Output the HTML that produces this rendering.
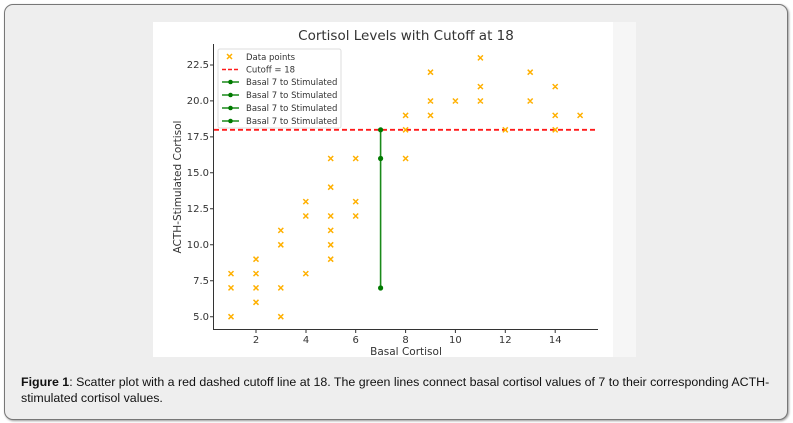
<!DOCTYPE html>
<html><head><style>
body{margin:0;background:#fff;width:793px;height:423px;overflow:hidden;font-family:"Liberation Sans",sans-serif}
.frame{position:absolute;left:4px;top:4px;width:782px;height:414px;background:#eeeeee;border:1px solid #777;border-radius:9px;box-shadow:1px 1px 2px #999}
.cap{position:absolute;left:21px;top:374px;font-size:12.4px;line-height:16px;color:#111;white-space:nowrap}
</style></head><body>
<div class="frame"></div>
<svg style="position:absolute;left:0;top:0" width="793" height="423" font-family="DejaVu Sans, sans-serif">
<rect x="153" y="22" width="483" height="335" fill="#f6f6f6"/>
<rect x="153" y="22" width="460" height="335" fill="#fff"/>
<text x="406" y="40" font-size="13.5" text-anchor="middle" fill="#333">Cortisol Levels with Cutoff at 18</text>
<g stroke="#333" stroke-width="1" fill="none"><path d="M213.5 44V329.5H598"/></g>
<g font-size="10" fill="#333" text-anchor="end">
<text x="209" y="320">5.0</text><text x="209" y="284">7.5</text><text x="209" y="248">10.0</text><text x="209" y="212">12.5</text><text x="209" y="176">15.0</text><text x="209" y="140">17.5</text><text x="209" y="104">20.0</text><text x="209" y="68">22.5</text>
</g>
<g stroke="#333"><path d="M210 316.7h3.5M210 280.7h3.5M210 244.8h3.5M210 208.8h3.5M210 172.8h3.5M210 136.9h3.5M210 100.9h3.5M210 65h3.5M256 329.5v3.5M306 329.5v3.5M355.7 329.5v3.5M405.6 329.5v3.5M455.4 329.5v3.5M505.3 329.5v3.5M555.2 329.5v3.5"/></g>
<g font-size="10" fill="#333" text-anchor="middle">
<text x="256" y="343">2</text><text x="306" y="343">4</text><text x="355.7" y="343">6</text><text x="405.6" y="343">8</text><text x="455.4" y="343">10</text><text x="505.3" y="343">12</text><text x="555.2" y="343">14</text>
<text x="406" y="355" font-size="10.5">Basal Cortisol</text>
</g>
<text transform="translate(181,187) rotate(-90)" font-size="10.5" fill="#333" text-anchor="middle">ACTH-Stimulated Cortisol</text>
<line x1="214" y1="129.8" x2="598" y2="129.8" stroke="#ff1a1a" stroke-width="1.8" stroke-dasharray="5,3"/>
<line x1="380.6" y1="129.8" x2="380.6" y2="288" stroke="#1a8a1a" stroke-width="1.6"/>
<g fill="#007a00"><circle cx="380.6" cy="129.8" r="2.6"/><circle cx="380.6" cy="158.5" r="2.6"/><circle cx="380.6" cy="288" r="2.6"/></g>
<rect x="218" y="49" width="123" height="79" fill="#fff" fill-opacity="0.85" stroke="#ddd" rx="2"/>
<g font-size="8.5" fill="#333">
<text x="246" y="60">Data points</text><text x="246" y="72.5">Cutoff = 18</text><text x="246" y="85">Basal 7 to Stimulated</text><text x="246" y="98">Basal 7 to Stimulated</text><text x="246" y="111">Basal 7 to Stimulated</text><text x="246" y="124">Basal 7 to Stimulated</text>
</g>
<path d="M227 54l5 5M232 54l-5 5" stroke="#ffb000" stroke-width="1.5"/>
<line x1="222" y1="69.5" x2="239" y2="69.5" stroke="#ff1a1a" stroke-width="1.6" stroke-dasharray="4,2"/>
<g stroke="#1a8a1a" stroke-width="1.6"><path d="M222 82h17M222 95h17M222 108h17M222 121h17"/></g>
<g fill="#007a00"><circle cx="230.5" cy="82" r="2.3"/><circle cx="230.5" cy="95" r="2.3"/><circle cx="230.5" cy="108" r="2.3"/><circle cx="230.5" cy="121" r="2.3"/></g>
</svg>
<svg style="position:absolute;left:0;top:0" width="793" height="423">
<g stroke="#ffb000" stroke-width="1.5">
<path d="
M228.5 314.2l5 5M233.5 314.2l-5 5
M228.5 285.4l5 5M233.5 285.4l-5 5
M228.5 271.1l5 5M233.5 271.1l-5 5
M253.5 299.8l5 5M258.5 299.8l-5 5
M253.5 285.4l5 5M258.5 285.4l-5 5
M253.5 271.1l5 5M258.5 271.1l-5 5
M253.5 256.7l5 5M258.5 256.7l-5 5
M278.3 314.2l5 5M283.3 314.2l-5 5
M278.3 285.4l5 5M283.3 285.4l-5 5
M278.3 242.3l5 5M283.3 242.3l-5 5
M278.3 227.9l5 5M283.3 227.9l-5 5
M303.3 271.1l5 5M308.3 271.1l-5 5
M303.3 213.5l5 5M308.3 213.5l-5 5
M303.3 199.1l5 5M308.3 199.1l-5 5
M328.2 256.7l5 5M333.2 256.7l-5 5
M328.2 242.3l5 5M333.2 242.3l-5 5
M328.2 227.9l5 5M333.2 227.9l-5 5
M328.2 213.5l5 5M333.2 213.5l-5 5
M328.2 184.7l5 5M333.2 184.7l-5 5
M328.2 156l5 5M333.2 156l-5 5
M353.2 213.5l5 5M358.2 213.5l-5 5
M353.2 199.1l5 5M358.2 199.1l-5 5
M353.2 156l5 5M358.2 156l-5 5
M403.1 156l5 5M408.1 156l-5 5
M403.1 127.3l5 5M408.1 127.3l-5 5
M403.1 112.9l5 5M408.1 112.9l-5 5
M428 112.9l5 5M433 112.9l-5 5
M428 98.5l5 5M433 98.5l-5 5
M428 69.7l5 5M433 69.7l-5 5
M452.9 98.5l5 5M457.9 98.5l-5 5
M477.9 98.5l5 5M482.9 98.5l-5 5
M477.9 84.1l5 5M482.9 84.1l-5 5
M477.9 55.4l5 5M482.9 55.4l-5 5
M502.8 127.3l5 5M507.8 127.3l-5 5
M527.7 98.5l5 5M532.7 98.5l-5 5
M527.7 69.7l5 5M532.7 69.7l-5 5
M552.7 127.3l5 5M557.7 127.3l-5 5
M552.7 112.9l5 5M557.7 112.9l-5 5
M552.7 84.1l5 5M557.7 84.1l-5 5
M577.6 112.9l5 5M582.6 112.9l-5 5"/>
</g>
</svg>
<div class="cap"><b>Figure 1</b>: Scatter plot with a red dashed cutoff line at 18. The green lines connect basal cortisol values of 7 to their corresponding ACTH-<br>stimulated cortisol values.</div>
</body></html>
